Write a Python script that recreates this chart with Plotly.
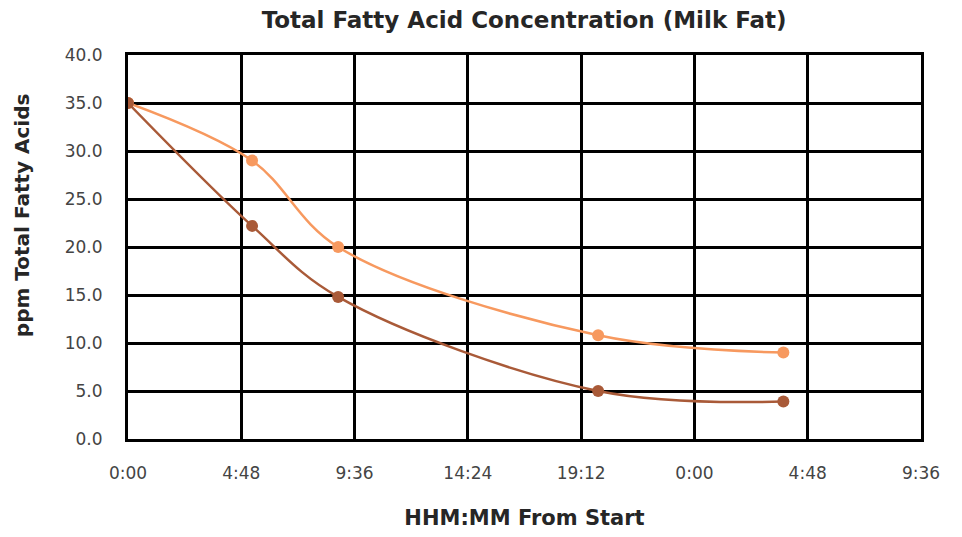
import plotly.graph_objects as go

# time in days from start
x_days = [0.0, 0.219, 0.371, 0.830, 1.157]
series_a_name = "Series A"
series_a = [35.0, 29.0, 20.0, 10.8, 9.0]
series_b_name = "Series B"
series_b = [35.0, 22.2, 14.8, 5.0, 3.9]

x_tickvals = [0.0, 0.2, 0.4, 0.6, 0.8, 1.0, 1.2, 1.4]
x_ticktext = ["0:00", "4:48", "9:36", "14:24", "19:12", "0:00", "4:48", "9:36"]
y_tickvals = [0, 5, 10, 15, 20, 25, 30, 35, 40]
y_ticktext = [f"{v:.1f}" for v in y_tickvals]

orange = "#F7995F"
brown = "#A95A38"

fig = go.Figure()
fig.add_trace(go.Scatter(x=x_days, y=series_a, name=series_a_name, mode="lines+markers",
                         line=dict(color=orange, width=2.5, shape="spline", smoothing=1.0),
                         marker=dict(color=orange, size=12)))
fig.add_trace(go.Scatter(x=x_days, y=series_b, name=series_b_name, mode="lines+markers",
                         line=dict(color=brown, width=2.5, shape="spline", smoothing=1.0),
                         marker=dict(color=brown, size=12)))

font_family = "'DejaVu Sans', sans-serif"
fig.update_layout(
    width=954, height=529,
    margin=dict(l=120, r=41, t=47, b=98),
    paper_bgcolor="white", plot_bgcolor="white",
    showlegend=False,
    title=dict(text="Total Fatty Acid Concentration (Milk Fat)", x=0.541, xanchor="center",
               y=0.977, yanchor="middle",
               font=dict(family=font_family, size=23, color="#262626", weight="bold")),
    font=dict(family=font_family, color="#333333"),
    annotations=[dict(text="ppm Total Fatty Acids", textangle=-90,
                      xref="paper", yref="paper", x=0, y=0.583, xshift=-106,
                      xanchor="center", yanchor="middle", showarrow=False,
                      font=dict(family=font_family, size=20, color="#262626", weight="bold"))],
)
fig.update_xaxes(range=[0, 1.4], tickvals=x_tickvals, ticktext=x_ticktext,
                 showgrid=True, gridcolor="black", gridwidth=3,
                 showline=True, linecolor="black", linewidth=3, mirror=True,
                 zeroline=False, ticks="", ticklabelstandoff=17, automargin=False,
                 tickfont=dict(size=17, color="#444444"),
                 title=dict(text="HHM:MM From Start", standoff=28,
                            font=dict(size=21, color="#262626", weight="bold")))
fig.update_yaxes(range=[0, 40], tickvals=y_tickvals, ticktext=y_ticktext,
                 showgrid=True, gridcolor="black", gridwidth=3,
                 showline=True, linecolor="black", linewidth=3, mirror=True,
                 zeroline=False, ticks="", ticklabelstandoff=19, automargin=False,
                 tickfont=dict(size=17, color="#444444"))

fig.write_html("out.html")
